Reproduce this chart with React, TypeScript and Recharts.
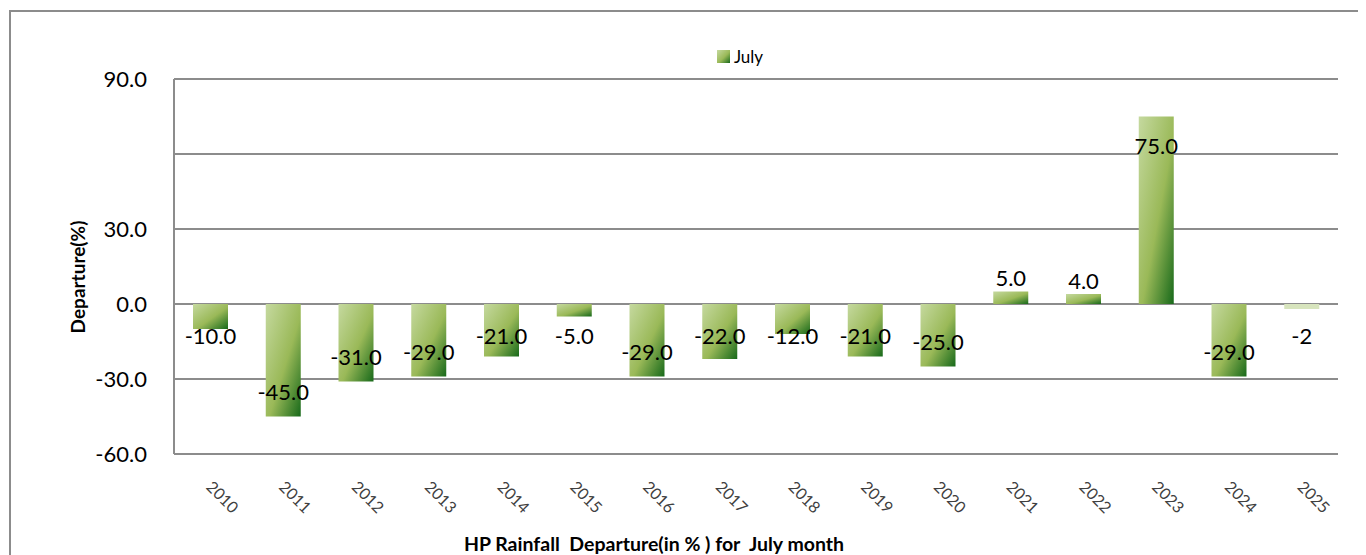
import React from "react";
import {
  BarChart,
  Bar,
  XAxis,
  YAxis,
  CartesianGrid,
  Legend,
  LabelList,
  Cell,
} from "recharts";

const YEARS = [
  "2010", "2011", "2012", "2013", "2014", "2015", "2016", "2017",
  "2018", "2019", "2020", "2021", "2022", "2023", "2024", "2025",
];
const JULY = [-10, -45, -31, -29, -21, -5, -29, -22, -12, -21, -25, 5, 4, 75, -29, -2];
const LABELS = [
  "-10.0", "-45.0", "-31.0", "-29.0", "-21.0", "-5.0", "-29.0", "-22.0",
  "-12.0", "-21.0", "-25.0", "5.0", "4.0", "75.0", "-29.0", "-2",
];
const Y_TICKS = [-60, -30, 0, 30, 60, 90];
const Y_TICK_LABELS: Record<number, string> = {
  "-60": "-60.0",
  "-30": "-30.0",
  "0": "0.0",
  "30": "30.0",
  "60": "",
  "90": "90.0",
};

const data = YEARS.map((year, i) => ({ year, july: JULY[i], label: LABELS[i] }));

const FONT = "Lato, 'Open Sans', sans-serif";
const GRID = "#8c8c8c";

function BarLabel(props: any) {
  const { x, y, width, height, index } = props;
  const v = JULY[index];
  const top = Math.min(y, y + height);
  const bottom = Math.max(y, y + height);
  let cy: number;
  if (v < 0) {
    cy = Math.max(bottom - 25, top + 31);
  } else if (bottom - top < 40) {
    cy = top - 14;
  } else {
    cy = top + 29;
  }
  return (
    <text
      x={x + width / 2}
      y={cy}
      textAnchor="middle"
      dominantBaseline="central"
      fontSize={22}
      fontFamily={FONT}
      fill="#000"
    >
      {LABELS[index]}
    </text>
  );
}

function YearTick(props: any) {
  const { x, y, payload } = props;
  const tx = x - 5;
  const ty = y + 26;
  return (
    <text
      x={tx}
      y={ty}
      transform={`rotate(45 ${tx} ${ty})`}
      textAnchor="start"
      fontSize={16}
      fontFamily={FONT}
      fill="#404040"
    >
      {payload.value}
    </text>
  );
}

function LegendBox() {
  return (
    <div
      style={{
        display: "flex",
        alignItems: "center",
        justifyContent: "center",
        fontFamily: FONT,
        fontSize: 17,
        color: "#000",
        marginLeft: 106,
      }}
    >
      <svg width={13} height={13} style={{ marginRight: 4 }}>
        <rect width={13} height={13} fill="url(#julyGrad)" />
      </svg>
      July
    </div>
  );
}

export default function App() {
  return (
    <div style={{ position: "relative", width: 1358, height: 547 }}>
      <div
        style={{
          position: "absolute",
          left: 1,
          top: 2,
          width: 1357,
          height: 545,
          borderLeft: `2px solid ${GRID}`,
          borderTop: `2px solid ${GRID}`,
          boxSizing: "border-box",
        }}
      />
      <BarChart
        width={1358}
        height={547}
        data={data}
        margin={{ top: 71, right: 28, left: 66, bottom: 41 }}
        style={{ position: "absolute", left: 0, top: 0 }}
      >
        <defs>
          <linearGradient id="julyGrad" x1="0" y1="0" x2="1" y2="1">
            <stop offset="0%" stopColor="#c5d99f" />
            <stop offset="55%" stopColor="#9ab958" />
            <stop offset="100%" stopColor="#17691a" />
          </linearGradient>
        </defs>
        <CartesianGrid vertical={false} stroke={GRID} strokeWidth={2} />
        <XAxis
          dataKey="year"
          height={60}
          tick={<YearTick />}
          tickLine={false}
          axisLine={{ stroke: GRID, strokeWidth: 2 }}
          interval={0}
          label={{
            content: () => (
              <text
                x={646}
                y={535}
                textAnchor="middle"
                dominantBaseline="central"
                fontSize={19.5}
                fontWeight="bold"
                fontFamily={FONT}
                fill="#000"
                style={{ whiteSpace: "pre" }}
              >
                HP Rainfall  Departure(in % ) for  July month
              </text>
            ),
          }}
        />
        <YAxis
          width={100}
          domain={[-60, 90]}
          ticks={Y_TICKS}
          tickFormatter={(v: number) => Y_TICK_LABELS[v] ?? ""}
          tick={{ fontSize: 22, fill: "#000", fontFamily: FONT }}
          tickLine={false}
          tickMargin={21}
          axisLine={{ stroke: GRID, strokeWidth: 2 }}
          label={{
            content: () => (
              <text
                x={69}
                y={269}
                transform="rotate(-90 69 269)"
                textAnchor="middle"
                dominantBaseline="central"
                fontSize={19}
                fontWeight="bold"
                fontFamily={FONT}
                fill="#000"
              >
                Departure(%)
              </text>
            ),
          }}
        />
        <Legend
          verticalAlign="middle"
          align="center"
          content={<LegendBox />}
          wrapperStyle={{ top: 38, left: 0, width: 1358 }}
        />
        <Bar dataKey="july" name="July" barSize={35} fill="url(#julyGrad)" isAnimationActive={false}>
          {data.map((d) => (
            <Cell key={d.year} fill={d.year === "2025" ? "#d7e4bd" : "url(#julyGrad)"} />
          ))}
          <LabelList dataKey="label" content={<BarLabel />} />
        </Bar>
      </BarChart>
    </div>
  );
}
